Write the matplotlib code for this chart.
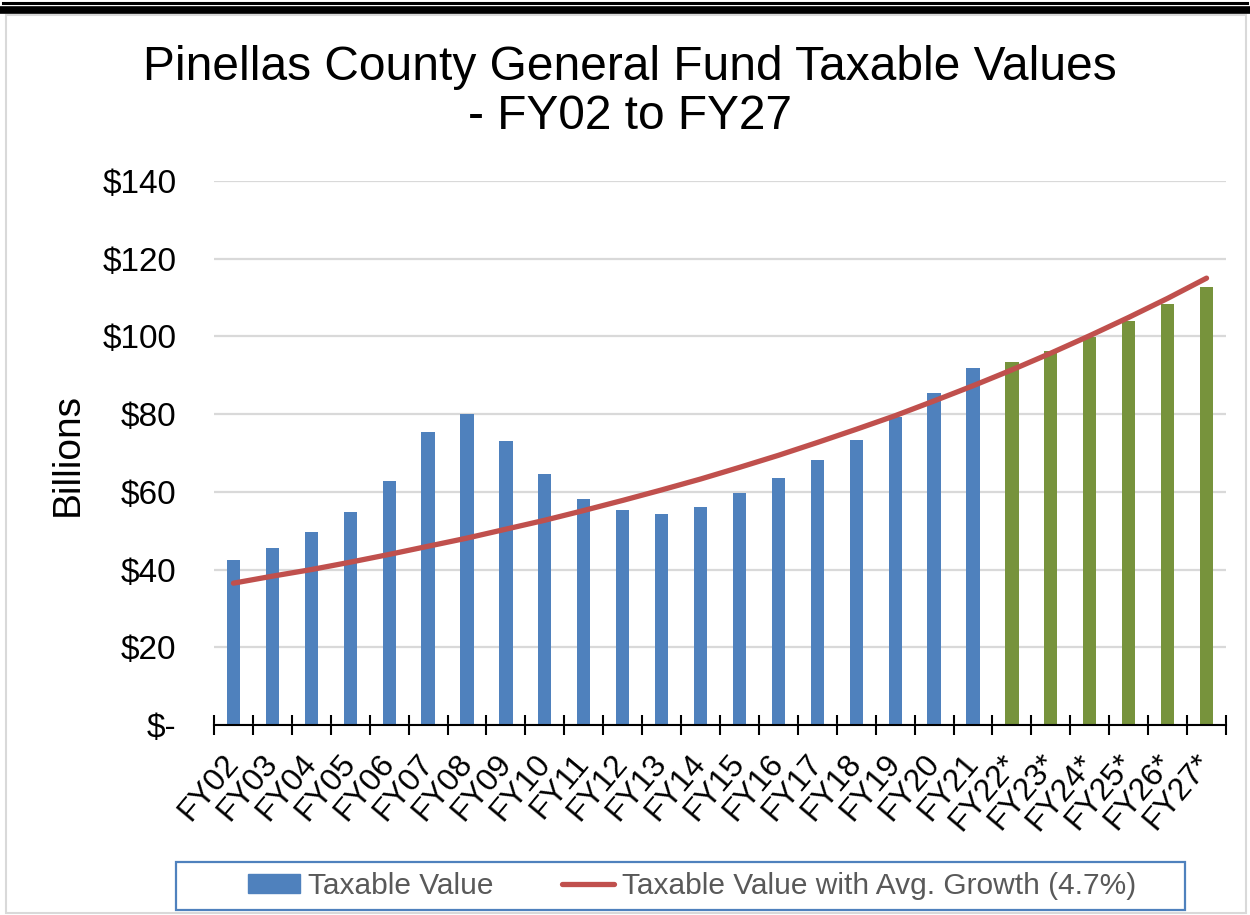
import numpy as np
import matplotlib
matplotlib.use("Agg")
from matplotlib import pyplot as plt
from matplotlib.patches import Rectangle, Patch
from matplotlib.lines import Line2D

plt.rcParams['font.family'] = ['Liberation Sans', 'DejaVu Sans']

# dados (bilhoes de dolares)
anos = ['FY02', 'FY03', 'FY04', 'FY05', 'FY06', 'FY07', 'FY08', 'FY09', 'FY10',
        'FY11', 'FY12', 'FY13', 'FY14', 'FY15', 'FY16', 'FY17', 'FY18', 'FY19',
        'FY20', 'FY21', 'FY22*', 'FY23*', 'FY24*', 'FY25*', 'FY26*', 'FY27*']
valor_tributavel = [42.4, 45.5, 49.7, 54.8, 62.8, 75.4, 80.0, 73.1, 64.6,
                    58.2, 55.3, 54.3, 56.1, 59.7, 63.6, 68.2, 73.4, 79.3,
                    85.4, 91.9, 93.4, 96.2, 99.8, 103.9, 108.3, 112.7]
crescimento_medio = [36.5, 38.3, 40.0, 41.9, 43.9, 46.0, 48.1, 50.4, 52.7,
                     55.2, 57.8, 60.5, 63.3, 66.3, 69.4, 72.7, 76.1, 79.6,
                     83.4, 87.3, 91.4, 95.7, 100.2, 104.9, 109.8, 115.0]
projetado = [False] * 20 + [True] * 6
ticks_y = [0, 20, 40, 60, 80, 100, 120, 140]
labels_y = ['$-', '$20', '$40', '$60', '$80', '$100', '$120', '$140']

azul = '#4F81BD'
verde = '#77933C'
vermelho = '#C0504D'

W, H = 1250, 915
fig = plt.figure(figsize=(W / 100, H / 100), dpi=100)
ax = fig.add_axes([214 / W, 1 - 725 / H, (1226 - 214) / W, (725 - 181) / H])

x = np.arange(len(anos))
cores = [verde if p else azul for p in projetado]
ax.bar(x, valor_tributavel, width=0.34, color=cores, zorder=2)
ax.plot(x, crescimento_medio, color=vermelho, lw=3.8, solid_capstyle='round', zorder=3)

ax.set_xlim(-0.5, len(anos) - 0.5)
ax.set_ylim(0, 140)
ax.set_yticks(ticks_y)
ax.set_yticklabels(labels_y)
ax.tick_params(axis='y', length=0, pad=27, labelsize=24)
ax.grid(axis='y', color='#D9D9D9', lw=1.6, zorder=0)

# marcas nas divisas, rotulos no centro
ax.set_xticks(np.arange(-0.5, len(anos), 1))
ax.set_xticklabels([])
ax.tick_params(axis='x', which='major', direction='inout', length=14, width=1.5)
ax.set_xticks(x, minor=True)
ax.set_xticklabels(anos, minor=True, rotation=50, ha='right', va='center',
                   rotation_mode='anchor', fontsize=23)
ax.tick_params(axis='x', which='minor', length=0, pad=24)

for lado in ['left', 'right', 'top']:
    ax.spines[lado].set_visible(False)
ax.spines['bottom'].set_linewidth(1.5)
ax.spines['bottom'].set_zorder(4)

fig.text(630 / W, 1 - 92 / H, 'Pinellas County General Fund Taxable Values\n- FY02 to FY27',
         ha='center', va='center', fontsize=34.5, linespacing=1.1)
fig.text(68 / W, 1 - 455 / H, 'Billions', rotation=90, ha='center', va='center', fontsize=28)

# legenda com caixa azul
fig.add_artist(Rectangle((176 / W, 1 - 910 / H), (1185 - 176) / W, 48 / H,
                         transform=fig.transFigure, fill=False, edgecolor=azul, lw=1.6))
handles = [Patch(color=azul), Line2D([], [], color=vermelho, lw=3.8, solid_capstyle='round')]
fig.legend(handles, ['Taxable Value', 'Taxable Value with Avg. Growth (4.7%)'],
           loc='center', bbox_to_anchor=(692 / W, 1 - 886 / H), ncol=2, frameon=False,
           fontsize=21.5, labelcolor='#595959', handlelength=1.75, handleheight=0.6,
           handletextpad=0.25, columnspacing=2.3)

# moldura da pagina
fig.add_artist(Line2D([3 / W, 1247 / W], [1 - 2.5 / H, 1 - 2.5 / H], color='black', lw=2.2,
                      transform=fig.transFigure))
fig.add_artist(Line2D([3 / W, 1247 / W], [1 - 9.5 / H, 1 - 9.5 / H], color='black', lw=5.5,
                      transform=fig.transFigure))
fig.add_artist(Rectangle((6 / W, 1 - 913 / H), (1246 - 6) / W, (913 - 15) / H,
                         transform=fig.transFigure, fill=False, edgecolor='#D9D9D9', lw=1.5))

fig.savefig('out.png', dpi=100)
